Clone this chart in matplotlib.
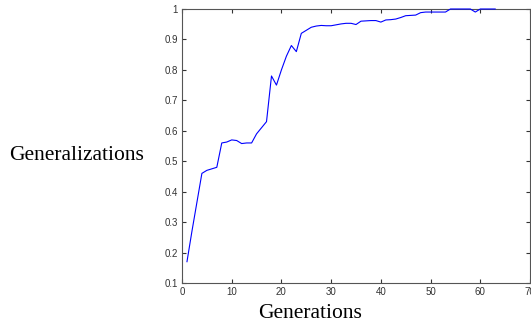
import matplotlib
matplotlib.use("Agg")
import matplotlib.pyplot as plt

generations = list(range(1, 64))
generalizations = [
    0.17, 0.27, 0.365, 0.46, 0.47, 0.475, 0.48, 0.56, 0.563, 0.57,
    0.568, 0.558, 0.56, 0.56, 0.59, 0.61, 0.63, 0.78, 0.75, 0.80,
    0.845, 0.88, 0.86, 0.92, 0.93, 0.94, 0.944, 0.946, 0.945, 0.945,
    0.948, 0.951, 0.953, 0.953, 0.949, 0.96, 0.961, 0.962, 0.962, 0.957,
    0.964, 0.965, 0.967, 0.972, 0.978, 0.979, 0.98, 0.988, 0.99, 0.99,
    0.99, 0.99, 0.99, 1.0, 1.0, 1.0, 1.0, 1.0, 0.99, 1.0,
    1.0, 1.0, 1.0,
]
xticks = [0, 10, 20, 30, 40, 50, 60, 70]
yticks = [0.1, 0.2, 0.3, 0.4, 0.5, 0.6, 0.7, 0.8, 0.9, 1.0]
ytick_labels = ["0.1", "0.2", "0.3", "0.4", "0.5", "0.6", "0.7", "0.8", "0.9", "1"]

fig = plt.figure(figsize=(5.31, 3.27), dpi=100)
ax = fig.add_axes([182/531, 1-283/327, (530-182)/531, (283-9)/327])
ax.plot(generations, generalizations, color=(0, 0, 1), lw=0.8,
        zorder=5, clip_on=False)
ax.set_xlim(0, 70)
ax.set_ylim(0.1, 1.0)
ax.set_xticks(xticks)
ax.set_xticklabels([str(t) for t in xticks])
ax.set_yticks(yticks)
ax.set_yticklabels(ytick_labels)
ax.tick_params(direction="in", top=True, right=True, length=3, width=0.8,
               labelsize=7, colors="#333333", pad=3)
for lab in ax.get_xticklabels() + ax.get_yticklabels():
    lab.set_fontfamily("Liberation Sans")
    lab.set_color("#333333")
for s in ax.spines.values():
    s.set_color("#555555")
    s.set_linewidth(0.8)
    s.set_zorder(2)

fig.text(310/531, 1-314/327, "Generations", family="Liberation Serif",
         fontsize=15.5, ha="center", va="center")
fig.text(77/531, 1-155/327, "Generalizations", family="Liberation Serif",
         fontsize=15.5, ha="center", va="center")

fig.savefig("out.png", dpi=100, facecolor="white")
